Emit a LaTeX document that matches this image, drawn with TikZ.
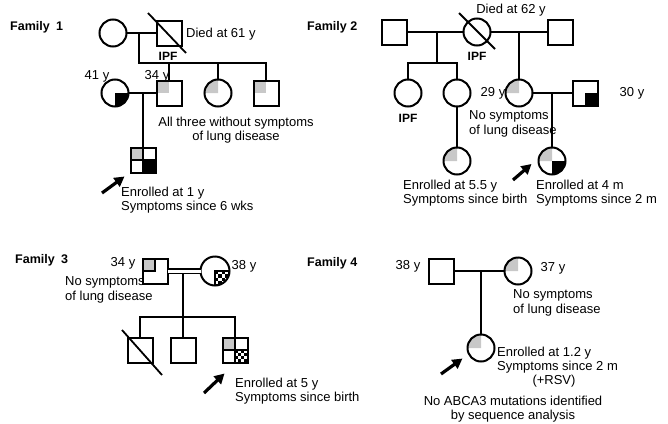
\documentclass[tikz,border=0pt]{standalone}
\usepackage{fontspec}
\setmainfont{Liberation Sans}
\usetikzlibrary{arrows.meta}
\pgfdeclarelayer{bg}
\pgfsetlayers{bg,main}
\definecolor{carrier}{RGB}{200,200,200}
\tikzset{
  male/.style={draw, rectangle, minimum size=25pt, inner sep=0pt, outer sep=0pt, line width=2pt},
  female/.style={draw, circle, minimum size=27pt, inner sep=0pt, outer sep=0pt, line width=2pt},
  tie/.style={line width=1.8pt},
  dead/.style={line width=1.8pt},
  lbl/.style={inner sep=0pt, align=left},
  ipf/.style={inner sep=0pt, font=\bfseries\fontsize{12pt}{14pt}\selectfont},
  fam/.style={inner sep=0pt, font=\bfseries\fontsize{12.5pt}{14pt}\selectfont},
  proband/.style={line width=3.2pt, -{Triangle[length=10pt,width=10.5pt]}},
}
\begin{document}
\begin{tikzpicture}[x=1pt, y=1pt, font=\fontsize{13pt}{14.5pt}\selectfont]
\useasboundingbox (0,0) rectangle (668,-423);

% family 1
\node[fam, anchor=west] (fam1) at (10,-27) {Family\enspace1};
\node[female] (f1gm) at (113,-33) {};
\node[male] (f1gf) at (169,-33) {};
\node[ipf] (f1ipf) at (168,-56) {IPF};
\node[lbl, anchor=west] (f1died) at (186,-34) {Died at 61 y};
\node[female] (f1mo) at (115,-93) {};
\node[male] (f1s1) at (169,-93) {};
\node[female] (f1s2) at (218,-93) {};
\node[male] (f1s3) at (266,-93) {};
\node[male] (f1pb) at (143,-160) {};
\node[lbl] (f1age1) at (97,-76) {41 y};
\node[lbl] (f1age2) at (157,-76) {34 y};
\node[lbl, align=center] (f1note) at (236,-130) {All three without symptoms\\of lung disease};
\node[lbl, anchor=west] (f1enr) at (121,-200) {Enrolled at 1 y\\Symptoms since 6 wks};
\coordinate (f1m) at (139,-33);
\coordinate (f1sib) at (139,-63);
\coordinate (f1m2) at (143,-93);
\coordinate (f1arr) at (102,-193);

\draw[dead] ([shift={(-21,20)}]f1gf.center) -- ([shift={(17,-20)}]f1gf.center);
\draw[tie] (f1gm.east) -- (f1gf.west);
\draw[tie] (f1m) -- (f1sib) -| (f1s3.north);
\draw[tie] (f1sib -| f1s1) -- (f1s1.north);
\draw[tie] (f1sib -| f1s2) -- (f1s2.north);
\draw[tie] (f1mo.east) -- (f1s1.west);
\draw[tie] (f1m2) -- (f1pb.north);
\draw[tie] (f1pb.north) -- (f1pb.south) (f1pb.west) -- (f1pb.east);
\draw[proband] (f1arr) -- ([shift={(-6,-4)}]f1pb.south west);

% family 2
\node[fam, anchor=west] (fam2) at (307,-27) {Family 2};
\node[male] (f2h1) at (394,-32) {};
\node[female] (f2w) at (477,-32) {};
\node[male] (f2h2) at (560,-32) {};
\node[lbl] (f2died) at (511,-10) {Died at 62 y};
\node[ipf] (f2ipf) at (477,-56) {IPF};
\node[female] (f2c1) at (408,-93) {};
\node[female] (f2c2) at (457,-93) {};
\node[ipf] (f2ipf2) at (408,-118) {IPF};
\node[female] (f2d) at (519,-93) {};
\node[male] (f2dh) at (585,-93) {};
\node[lbl] (f2age1) at (493,-93) {29 y};
\node[lbl] (f2age2) at (632,-93) {30 y};
\node[lbl, anchor=west] (f2note) at (469,-124) {No symptoms\\of lung disease};
\node[female] (f2gc) at (457,-161) {};
\node[female] (f2pb) at (552,-161) {};
\node[lbl, anchor=west] (f2enr1) at (403,-193) {Enrolled at 5.5 y\\Symptoms since birth};
\node[lbl, anchor=west] (f2enr2) at (536,-193) {Enrolled at 4 m\\Symptoms since 2 m};
\coordinate (f2sib) at (437,-63);
\coordinate (f2m1) at (437,-32);
\coordinate (f2arr) at (513,-180);

\draw[dead] ([shift={(-18,19)}]f2w.center) -- ([shift={(18,-17)}]f2w.center);
\draw[tie] (f2h1.east) -- (f2w.west);
\draw[tie] (f2w.east) -- (f2h2.west);
\draw[tie] (f2m1) -- (f2sib);
\draw[tie] (f2c1.north) |- (f2sib) -| (f2c2.north);
\draw[tie] (f2d.north) -- (f2d |- f2w);
\draw[tie] (f2d.east) -- (f2dh.west);
\draw[tie] (f2pb.north) -- (f2pb |- f2d);
\draw[tie] (f2c2.south) -- (f2gc.north);
\draw[proband] (f2arr) -- ([shift={(-7,-3)}]f2pb.west);

% family 3
\node[fam, anchor=west] (fam3) at (15,-260) {Family\enspace3};
\node[male] (f3h) at (155,-271) {};
\node[female, minimum size=29pt] (f3w) at (215,-271) {};
\node[lbl] (f3age1) at (123,-263) {34 y};
\node[lbl] (f3age2) at (244,-266) {38 y};
\node[lbl, anchor=west] (f3note) at (65,-290) {No symptoms\\of lung disease};
\node[male] (f3c1) at (140,-350) {};
\node[male] (f3c2) at (183,-350) {};
\node[male] (f3c3) at (235,-350) {};
\node[lbl, anchor=west] (f3enr) at (235,-391) {Enrolled at 5 y\\Symptoms since birth};
\coordinate (f3m) at (183,-273.5);
\coordinate (f3sib) at (183,-317);
\coordinate (f3arr) at (204,-393);

\draw[tie, double, double distance=3pt] (f3h.east) -- (f3w.west);
\draw[tie] (f3m) -- (f3c2.north);
\draw[tie] (f3c1.north) |- (f3sib) -| (f3c3.north);
\draw[dead] ([shift={(-18,20)}]f3c1.center) -- ([shift={(22,-25)}]f3c1.center);
\draw[tie] (f3c3.north) -- (f3c3.south) (f3c3.west) -- (f3c3.east);
\draw[tie] (f3h.north) -- (f3h.center) -- (f3h.west);
\draw[tie] (f3w.south) -- (f3w.center) -- (f3w.east);
\draw[proband] (f3arr) -- ([shift={(2,-11)}]f3c3.south west);

% family 4
\node[fam, anchor=west] (fam4) at (307,-263) {Family 4};
\node[male] (f4h) at (441,-271) {};
\node[female] (f4w) at (518,-271) {};
\node[lbl] (f4age1) at (408,-266) {38 y};
\node[lbl] (f4age2) at (553,-268) {37 y};
\node[lbl, anchor=west] (f4note) at (513,-303) {No symptoms\\of lung disease};
\node[female] (f4pb) at (481,-348) {};
\node[lbl, anchor=west] (f4enr) at (497,-360) {Enrolled at 1.2 y\\Symptoms since 2 m};
\node[lbl] (f4rsv) at (554,-381) {(+RSV)};
\node[lbl, align=center] (f4mut) at (513,-409) {No ABCA3 mutations identified\\by sequence analysis};
\coordinate (f4arr) at (441,-374);

\draw[tie] (f4h.east) -- (f4w.west);
\draw[tie] (f4pb.north) -- (f4pb |- f4h);
\draw[proband] (f4arr) -- ([shift={(-9,-1)}]f4pb.south west);

% quadrant fills
\begin{pgfonlayer}{bg}
\fill (f1mo.center) -- (f1mo.south) arc[start angle=270, end angle=360, radius=13.5] -- cycle;
\fill[carrier] (f1s1.north west) rectangle (f1s1.center);
\fill[carrier] (f1s2.center) -- (f1s2.west) arc[start angle=180, end angle=90, radius=13.5] -- cycle;
\fill[carrier] (f1s3.north west) rectangle (f1s3.center);
\fill[carrier] (f1pb.north west) rectangle (f1pb.center);
\fill (f1pb.center) rectangle (f1pb.south east);

\fill[carrier] (f2d.center) -- (f2d.west) arc[start angle=180, end angle=90, radius=13.5] -- cycle;
\fill (f2dh.center) rectangle (f2dh.south east);
\fill[carrier] (f2gc.center) -- (f2gc.west) arc[start angle=180, end angle=90, radius=13.5] -- cycle;
\fill[carrier] (f2pb.center) -- (f2pb.west) arc[start angle=180, end angle=90, radius=13.5] -- cycle;
\fill (f2pb.center) -- (f2pb.south) arc[start angle=270, end angle=360, radius=13.5] -- cycle;

\fill[carrier] (f3h.north west) rectangle (f3h.center);
\fill[carrier] (f3c3.north west) rectangle (f3c3.center);
\begin{scope}
  \clip (f3w.center) -- (f3w.south) arc[start angle=270, end angle=360, radius=14.5] -- cycle;
  \foreach \i in {0,...,4}{\foreach \j in {0,...,4}{
    \pgfmathtruncatemacro{\k}{mod(\i+\j,2)}
    \ifnum\k=0 \fill ([shift={(\i*3.25,-\j*3.25)}]f3w.center) rectangle ++(3.25,-3.25); \fi
  }}
\end{scope}
\foreach \i in {0,...,3}{\foreach \j in {0,...,3}{
  \pgfmathtruncatemacro{\k}{mod(\i+\j,2)}
  \ifnum\k=0 \fill ([shift={(\i*3.125,-\j*3.125)}]f3c3.center) rectangle ++(3.125,-3.125); \fi
}}

\fill[carrier] (f4w.center) -- (f4w.west) arc[start angle=180, end angle=90, radius=13.5] -- cycle;
\fill[carrier] (f4pb.center) -- (f4pb.west) arc[start angle=180, end angle=90, radius=13.5] -- cycle;
\end{pgfonlayer}
\end{tikzpicture}
\end{document}
